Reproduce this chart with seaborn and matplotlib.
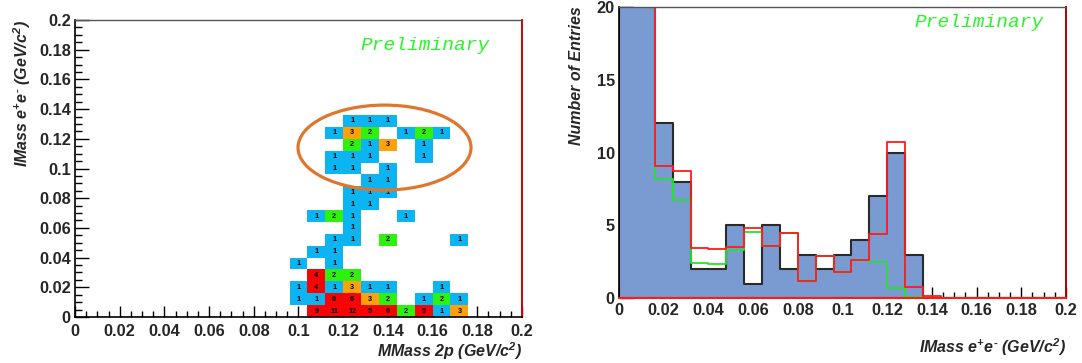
import numpy as np
import pandas as pd
import matplotlib
matplotlib.use("Agg")
import matplotlib.pyplot as plt
import seaborn as sns
from matplotlib.colors import ListedColormap
from matplotlib.patches import Ellipse
from matplotlib.ticker import MultipleLocator, FuncFormatter

# ---------------- data ----------------
# 2D histogram cells (bin centres, 0.008 wide bins over 0..0.2)
cell_mmass = [
    0.108, 0.116, 0.124, 0.132, 0.140, 0.148, 0.156, 0.164, 0.172,          # row 0.004
    0.100, 0.108, 0.116, 0.124, 0.132, 0.140, 0.156, 0.164, 0.172,          # row 0.012
    0.100, 0.108, 0.116, 0.124, 0.132, 0.140, 0.164,                        # row 0.020
    0.108, 0.116, 0.124,                                                    # row 0.028
    0.100, 0.116,                                                           # row 0.036
    0.108, 0.116,                                                           # row 0.044
    0.116, 0.124, 0.140, 0.172,                                             # row 0.052
    0.124,                                                                  # row 0.060
    0.108, 0.116, 0.124, 0.148,                                             # row 0.068
    0.124, 0.132,                                                           # row 0.076
    0.124, 0.132, 0.140,                                                    # row 0.084
    0.132, 0.140,                                                           # row 0.092
    0.116, 0.124, 0.140,                                                    # row 0.100
    0.116, 0.124, 0.132, 0.156,                                             # row 0.108
    0.124, 0.132, 0.140, 0.156,                                             # row 0.116
    0.116, 0.124, 0.132, 0.148, 0.156, 0.164,                               # row 0.124
    0.124, 0.132, 0.140,                                                    # row 0.132
]
cell_imass = (
    [0.004] * 9 + [0.012] * 9 + [0.020] * 7 + [0.028] * 3 + [0.036] * 2
    + [0.044] * 2 + [0.052] * 4 + [0.060] * 1 + [0.068] * 4 + [0.076] * 2
    + [0.084] * 3 + [0.092] * 2 + [0.100] * 3 + [0.108] * 4 + [0.116] * 4
    + [0.124] * 6 + [0.132] * 3
)
cell_count = [
    9, 11, 12, 5, 6, 2, 5, 1, 3,
    1, 1, 6, 6, 3, 2, 1, 2, 1,
    1, 4, 1, 3, 1, 1, 1,
    4, 2, 2,
    1, 1,
    1, 1,
    1, 1, 2, 1,
    1,
    1, 2, 1, 1,
    1, 1,
    1, 1, 1,
    1, 1,
    1, 1, 1,
    1, 1, 1, 1,
    2, 1, 3, 1,
    1, 3, 2, 1, 2, 1,
    1, 1, 1,
]

# 1D histograms (25 bins of 0.008 between 0 and 0.2)
imass_centres = [0.004 + 0.008 * k for k in range(25)]
red_hist = [45, 24, 9.1, 8.7, 3.45, 3.35, 3.55, 4.85, 3.6, 4.45, 1.22, 2.92, 1.82,
            2.62, 4.43, 10.7, 0.8, 0.15, 0, 0, 0, 0, 0, 0, 0]
green_hist = [45, 21, 8.15, 6.75, 2.45, 2.35, 3.3, 4.55, 3.6, 4.45, 1.22, 2.92, 1.82,
              2.62, 2.47, 0.69, 0.08, 0.05, 0, 0, 0, 0, 0, 0, 0]

xy_ticks = [0, 0.02, 0.04, 0.06, 0.08, 0.1, 0.12, 0.14, 0.16, 0.18, 0.2]
count_ticks = [0, 5, 10, 15, 20]

ellipse_centre = (0.1385, 0.1141)
ellipse_size = (0.0774, 0.0572)

# ---------------- style ----------------
sns.set_style("ticks")
plt.rcParams["font.family"] = ["Liberation Sans", "DejaVu Sans"]
plt.rcParams["mathtext.fontset"] = "custom"
plt.rcParams["mathtext.rm"] = "Liberation Sans:bold:italic"
plt.rcParams["mathtext.it"] = "Liberation Sans:bold:italic"
plt.rcParams["mathtext.bf"] = "Liberation Sans:bold:italic"
plt.rcParams["mathtext.default"] = "rm"

cell_blue = "#0cb4f2"
cell_green = "#2ef20e"
cell_orange = "#ffa20a"
cell_red = "#f50505"
hist_blue = "#7a9bd2"
prelim_green = "#2af52a"

fig = plt.figure(figsize=(10.82, 3.63), dpi=100)
ax1 = fig.add_axes([0.0693, 0.1267, 0.4131, 0.8182])
ax2 = fig.add_axes([0.5721, 0.1782, 0.4131, 0.8033])

tick_fs = 11.8
label_fs = 11.5
ee_label = "IMass e$^{+}$e$^{\u2010}$ (GeV/c$^{2}$)"


def fmt(v, pos):
    return "%g" % round(v, 4)


def style_ticks(ax, xmaj, xmin, ymaj, ymin, xpad):
    ax.tick_params(which="both", direction="in", bottom=True, left=True,
                   top=False, right=False, color="black", width=1)
    ax.tick_params(axis="x", which="major", length=xmaj, pad=xpad, labelsize=tick_fs)
    ax.tick_params(axis="x", which="minor", length=xmin)
    ax.tick_params(axis="y", which="major", length=ymaj, pad=3, labelsize=tick_fs)
    ax.tick_params(axis="y", which="minor", length=ymin)
    for lab in ax.get_xticklabels() + ax.get_yticklabels():
        lab.set_fontweight("bold")


# ---------------- left: 2D histogram ----------------
cmap = ListedColormap([cell_blue, cell_green, cell_orange, cell_red]).with_extremes(over=cell_red)
df2 = pd.DataFrame({"mm": cell_mmass, "im": cell_imass, "n": cell_count})
sns.histplot(data=df2, x="mm", y="im", weights="n", bins=25,
             binrange=((0, 0.2), (0, 0.2)), cmap=cmap, vmin=0.5, vmax=4.5,
             ax=ax1, linewidth=0, antialiased=False)
for xm, ym, n in zip(cell_mmass, cell_imass, cell_count):
    ax1.text(xm, ym, str(n), ha="center", va="center", fontsize=5.2,
             fontweight="bold", color="black")

ax1.add_patch(Ellipse(ellipse_centre, ellipse_size[0], ellipse_size[1],
                      fill=False, edgecolor="#e0762e", linewidth=2.3, zorder=5))

ax1.set_xlim(0, 0.2)
ax1.set_ylim(0, 0.2)
ax1.set_xticks(xy_ticks)
ax1.set_yticks(xy_ticks)
ax1.xaxis.set_minor_locator(MultipleLocator(0.005))
ax1.yaxis.set_minor_locator(MultipleLocator(0.005))
ax1.xaxis.set_major_formatter(FuncFormatter(fmt))
ax1.yaxis.set_major_formatter(FuncFormatter(fmt))
style_ticks(ax1, 8, 4.5, 10, 5, 5)
ax1.set_xlabel("MMass 2p (GeV/c$^{2}$)", loc="right", fontsize=label_fs,
               fontweight="bold", fontstyle="italic", labelpad=1)
ax1.set_ylabel(ee_label, loc="top", fontsize=label_fs,
               fontweight="bold", fontstyle="italic", labelpad=4)
ax1.text(0.783, 0.915, "Preliminary", transform=ax1.transAxes, ha="center",
         va="center", fontsize=14, family="Liberation Mono", style="italic",
         color=prelim_green)
for s in ["left", "bottom"]:
    ax1.spines[s].set_color("black")
    ax1.spines[s].set_linewidth(1.2)
ax1.spines["top"].set_color("#555555")
ax1.spines["top"].set_linewidth(1.0)
ax1.spines["right"].set_color("#d00000")
ax1.spines["right"].set_linewidth(1.4)

# ---------------- right: 1D histograms ----------------
sns.histplot(x=cell_imass, weights=cell_count, bins=25, binrange=(0, 0.2),
             element="step", fill=True, color=hist_blue, alpha=1,
             edgecolor="#2a2a2a", linewidth=1.5, ax=ax2)
sns.histplot(x=imass_centres, weights=green_hist, bins=25, binrange=(0, 0.2),
             element="step", fill=False, color="#22e622", linewidth=1.3, ax=ax2)
sns.histplot(x=imass_centres, weights=red_hist, bins=25, binrange=(0, 0.2),
             element="step", fill=False, color="#ff1a1a", linewidth=1.3, ax=ax2)

ax2.set_xlim(0, 0.2)
ax2.set_ylim(0, 20)
ax2.set_xticks(xy_ticks)
ax2.set_yticks(count_ticks)
ax2.xaxis.set_minor_locator(MultipleLocator(0.005))
ax2.yaxis.set_minor_locator(MultipleLocator(1))
ax2.xaxis.set_major_formatter(FuncFormatter(fmt))
ax2.yaxis.set_major_formatter(FuncFormatter(fmt))
style_ticks(ax2, 8, 4.5, 10, 5, 3.5)
ax2.set_xlabel(ee_label, loc="right", fontsize=label_fs,
               fontweight="bold", fontstyle="italic", labelpad=13)
ax2.set_ylabel("Number of Entries", loc="top", fontsize=label_fs,
               fontweight="bold", fontstyle="italic", labelpad=9)
ax2.text(0.805, 0.947, "Preliminary", transform=ax2.transAxes, ha="center",
         va="center", fontsize=14, family="Liberation Mono", style="italic",
         color=prelim_green)
ax2.spines["left"].set_color("black")
ax2.spines["left"].set_linewidth(1.2)
ax2.spines["bottom"].set_color("#ff1a1a")
ax2.spines["bottom"].set_linewidth(1.5)
ax2.spines["top"].set_color("#555555")
ax2.spines["top"].set_linewidth(1.0)
ax2.spines["right"].set_color("#b00000")
ax2.spines["right"].set_linewidth(1.4)
ax1.set_zorder(1)

fig.savefig("out.png", dpi=100)
